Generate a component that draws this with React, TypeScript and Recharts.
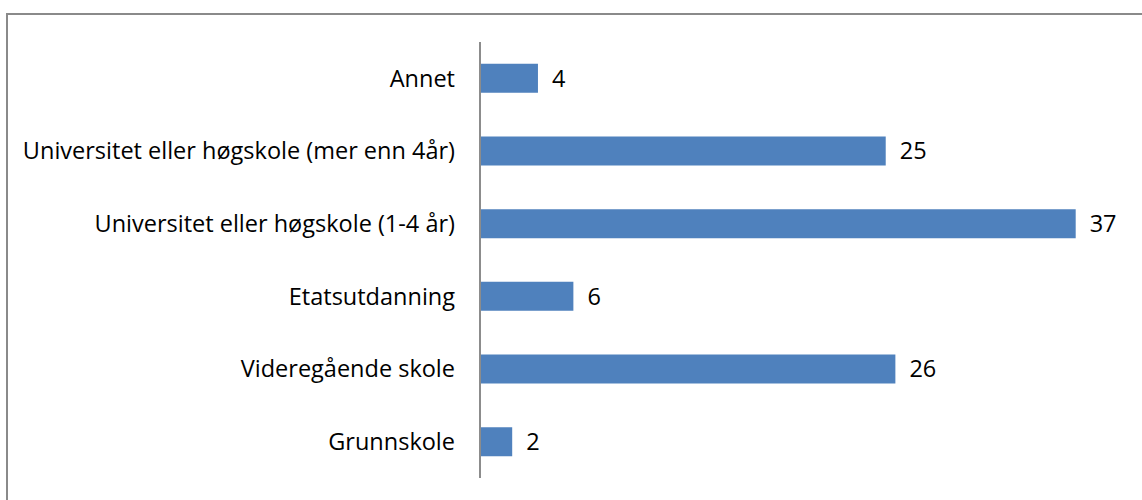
import React from 'react';
import { BarChart, Bar, XAxis, YAxis, LabelList } from 'recharts';

const categories = [
    'Annet',
    'Universitet eller høgskole (mer enn 4år)',
    'Universitet eller høgskole (1-4 år)',
    'Etatsutdanning',
    'Videregående skole',
    'Grunnskole',
];

const values = [3.6, 25.2, 37, 5.8, 25.8, 2.0];

const data = categories.map((name, i) => ({ name, value: values[i] }));

const FONT = '"Open Sans", sans-serif';

export default function App() {
    return (
        <div style={{ position: 'absolute', left: 0, top: 0, width: 1142, height: 500, overflow: 'hidden', background: '#fff' }}>
            <div
                style={{
                    position: 'absolute',
                    left: 6,
                    top: 13,
                    width: 1200,
                    height: 600,
                    borderLeft: '2px solid #8a8a8a',
                    borderTop: '2px solid #8a8a8a',
                }}
            />
            <div style={{ position: 'absolute', left: 0, top: 0 }}>
                <BarChart
                    width={1142}
                    height={500}
                    data={data}
                    layout="vertical"
                    margin={{ top: 42, right: 18, bottom: 22, left: 0 }}
                    barCategoryGap="30%"
                >
                    <XAxis type="number" domain={[0, 40]} hide />
                    <YAxis
                        type="category"
                        dataKey="name"
                        width={480}
                        axisLine={{ stroke: '#8c8c8c', strokeWidth: 2 }}
                        tickLine={false}
                        tickSize={0}
                        tickMargin={25}
                        tick={{ fill: '#000', fontSize: 23.5, fontFamily: FONT }}
                        interval={0}
                    />
                    <Bar dataKey="value" fill="#4f81bd" isAnimationActive={false}>
                        <LabelList
                            dataKey="value"
                            position="right"
                            offset={14}
                            formatter={(v: any) => Math.round(Number(v))}
                            style={{ fill: '#000', fontSize: 23.5, fontFamily: FONT }}
                        />
                    </Bar>
                </BarChart>
            </div>
        </div>
    );
}
